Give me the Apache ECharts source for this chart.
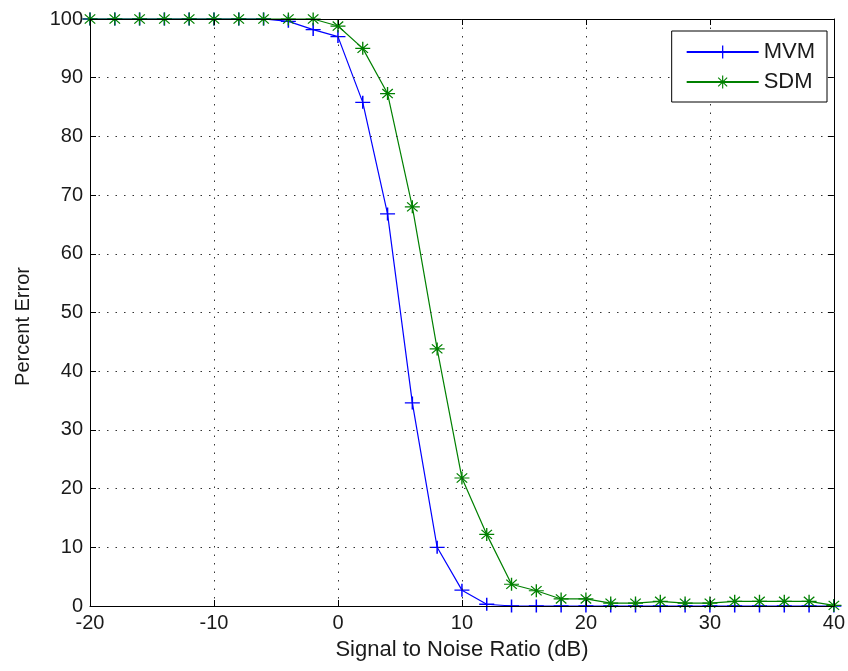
<!DOCTYPE html>
<html>
<head>
<meta charset="utf-8">
<script src="https://cdn.jsdelivr.net/npm/echarts@6/dist/echarts.min.js"></script>
<style>
html,body{margin:0;padding:0;background:#fff;}
#chart{width:848px;height:671px;}
</style>
</head>
<body>
<div id="chart"></div>
<script>
var snr = [-20,-18,-16,-14,-12,-10,-8,-6,-4,-2,0,2,4,6,8,10,12,14,16,18,20,22,24,26,28,30,32,34,36,38,40];
var mvm = [100,100,100,100,100,100,100,100,99.6,98.2,97,85.8,66.8,34.6,10,2.7,0.3,0,0,0,0,0,0,0,0,0,0,0,0,0,0];
var sdm = [100,100,100,100,100,100,100,100,100,100,98.8,95,87.3,68,43.8,21.8,12.2,3.7,2.6,1.2,1.2,0.5,0.5,0.8,0.5,0.5,0.8,0.8,0.8,0.8,0.1];
var xTicks = {min:-20, max:40, interval:10};
var yTicks = {min:0, max:100, interval:10};
var seriesNames = ['MVM','SDM'];

var plusPath = 'path://M0,4.5H10V5.5H0Z M4.5,0H5.5V10H4.5Z';
var starPath = 'path://M0,4.55H10V5.45H0Z M4.55,0H5.45V10H4.55Z M1.2,1.8L1.8,1.2L8.8,8.2L8.2,8.8Z M8.2,1.2L8.8,1.8L1.8,8.8L1.2,8.2Z M3.9,3.9H6.1V6.1H3.9Z';

function pairs(xs, ys){ return xs.map(function(x,i){ return [x, ys[i]]; }); }

var font = 'Liberation Sans, Arial, sans-serif';
var txt = '#1a1a1a';
var chart = echarts.init(document.getElementById('chart'), null, {renderer:'canvas'});
chart.setOption({
  backgroundColor:'#ffffff',
  animation:false,
  grid:{left:90, right:13, top:19, bottom:65, containLabel:false},
  legend:{
    orient:'vertical', right:21, top:31, z:20,
    backgroundColor:'#fff', borderColor:'#000', borderWidth:1,
    padding:[10,12,9,14], itemWidth:72, itemHeight:16, itemGap:8,
    textStyle:{fontFamily:font, fontSize:22, color:txt},
    data: seriesNames
  },
  xAxis:[{
    type:'value', min:xTicks.min, max:xTicks.max, interval:xTicks.interval, z:10,
    name:'Signal to Noise Ratio (dB)', nameLocation:'middle', nameGap:33,
    nameTextStyle:{fontFamily:font, fontSize:22, color:txt},
    axisLine:{show:true, onZero:false, lineStyle:{color:'#000', width:1}},
    axisTick:{show:true, inside:true, length:6, lineStyle:{color:'#000'}},
    axisLabel:{fontFamily:font, fontSize:20, color:txt, margin:7},
    splitLine:{show:true, lineStyle:{color:'#333', width:1, type:[1.5,7]}}
  },{
    type:'value', position:'top', min:xTicks.min, max:xTicks.max, interval:xTicks.interval, z:10,
    axisLine:{show:true, onZero:false, lineStyle:{color:'#000', width:1}},
    axisTick:{show:true, inside:true, length:6, lineStyle:{color:'#000'}},
    axisLabel:{show:false}, splitLine:{show:false}
  }],
  yAxis:[{
    type:'value', min:yTicks.min, max:yTicks.max, interval:yTicks.interval, z:10,
    name:'Percent Error', nameLocation:'middle', nameGap:57, nameRotate:90,
    nameTextStyle:{fontFamily:font, fontSize:20, color:txt, padding:[0,28,0,0]},
    axisLine:{show:true, onZero:false, lineStyle:{color:'#000', width:1}},
    axisTick:{show:true, inside:true, length:6, lineStyle:{color:'#000'}},
    axisLabel:{fontFamily:font, fontSize:20, color:txt, margin:7},
    splitLine:{show:true, lineStyle:{color:'#333', width:1, type:[1.5,7]}}
  },{
    type:'value', position:'right', min:yTicks.min, max:yTicks.max, interval:yTicks.interval, z:10,
    axisLine:{show:true, onZero:false, lineStyle:{color:'#000', width:1}},
    axisTick:{show:true, inside:true, length:6, lineStyle:{color:'#000'}},
    axisLabel:{show:false}, splitLine:{show:false}
  }],
  series:[{
    name:seriesNames[0], type:'line', xAxisIndex:0, yAxisIndex:0,
    data: pairs(snr, mvm),
    symbol: plusPath, symbolSize:[15,13], symbolKeepAspect:false, showAllSymbol:true,
    lineStyle:{color:'#0000ff', width:1.2},
    itemStyle:{color:'#0000ff', borderWidth:0},
    clip:false, z:3
  },{
    name:seriesNames[1], type:'line', xAxisIndex:0, yAxisIndex:0,
    data: pairs(snr, sdm),
    symbol: starPath, symbolSize:[15,13], symbolKeepAspect:false, showAllSymbol:true,
    lineStyle:{color:'#008000', width:1.2},
    itemStyle:{color:'#008000', borderWidth:0},
    clip:false, z:4
  }]
});
</script>
</body>
</html>
